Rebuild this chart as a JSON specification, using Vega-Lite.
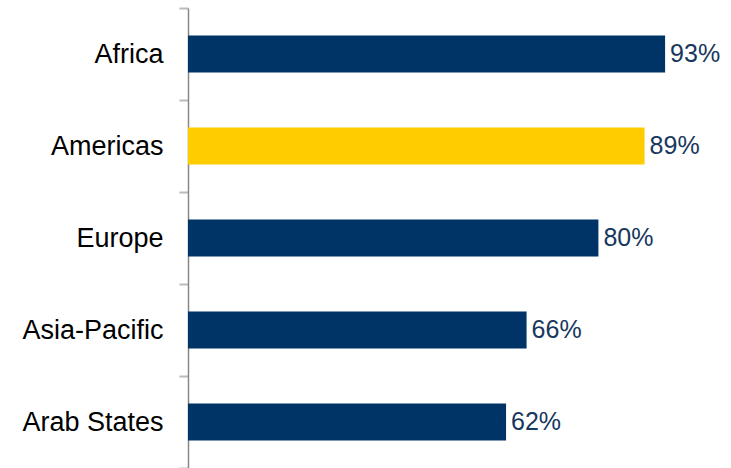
{
  "$schema": "https://vega.github.io/schema/vega-lite/v6.json",
  "autosize": "none",
  "padding": {"left": 188, "top": 8, "right": 30, "bottom": 0},
  "width": 513,
  "height": 460,
  "background": "white",
  "config": {"view": {"stroke": null}, "font": "Liberation Sans"},
  "data": {"values": [
    {"region": "Africa", "value": 0.93, "highlight": "no"},
    {"region": "Americas", "value": 0.89, "highlight": "yes"},
    {"region": "Europe", "value": 0.80, "highlight": "no"},
    {"region": "Asia-Pacific", "value": 0.66, "highlight": "no"},
    {"region": "Arab States", "value": 0.62, "highlight": "no"}
  ]},
  "encoding": {
    "y": {
      "field": "region", "type": "nominal", "sort": null,
      "scale": {"paddingInner": 0, "paddingOuter": 0},
      "axis": {
        "title": null, "domainColor": "#888888", "domainWidth": 1.5,
        "tickColor": "#bbbbbb", "tickWidth": 2, "tickSize": 9, "tickBand": "extent",
        "labelFontSize": 27, "labelColor": "#000000", "labelPadding": 16,
        "labelFont": "Liberation Sans"
      }
    },
    "x": {
      "field": "value", "type": "quantitative",
      "scale": {"domain": [0, 1]}, "axis": null
    }
  },
  "layer": [
    {
      "mark": {"type": "bar", "height": {"band": 0.4}},
      "encoding": {
        "color": {
          "field": "highlight", "type": "nominal",
          "scale": {"domain": ["no", "yes"], "range": ["#003366", "#FFCC00"]},
          "legend": null
        }
      }
    },
    {
      "mark": {"type": "text", "align": "left", "baseline": "middle", "dx": 5, "fontSize": 25, "color": "#17375E", "font": "Liberation Sans"},
      "encoding": {"text": {"field": "value", "type": "quantitative", "format": ".0%"}}
    }
  ]
}
